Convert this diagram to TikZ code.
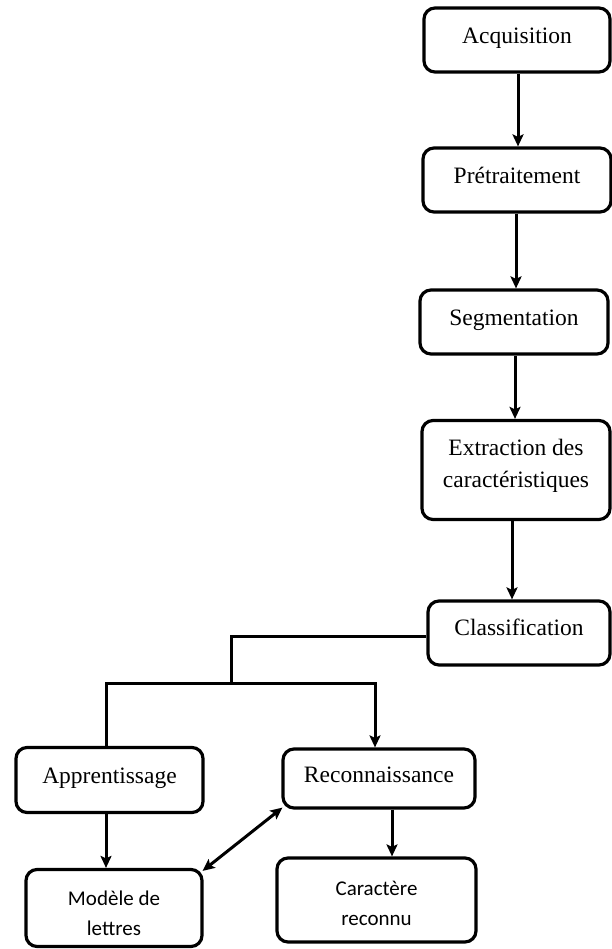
\documentclass[tikz,border=0pt]{standalone}
\usepackage{fontspec}
\setmainfont{Liberation Serif}
\newfontfamily\calib{Carlito}
\usetikzlibrary{arrows.meta}
\begin{document}
\begin{tikzpicture}[x=1pt,y=-1pt,
  box/.style={draw, line width=3.2pt, rounded corners=11pt, fill=white,
    inner sep=0pt, align=center, font=\fontsize{23.5}{32}\selectfont},
  onebox/.style={box, text height=16pt, text depth=9pt},
  sbox/.style={box, font=\calib\fontsize{21}{30}\selectfont},
  link/.style={line width=3pt},
  arr/.style={link, -{Stealth[length=12pt,width=11pt,inset=2.5pt]}},
  darr/.style={link, {Stealth[length=12pt,width=11pt,inset=2.5pt]}-{Stealth[length=12pt,width=11pt,inset=2.5pt]}}]
\useasboundingbox (0,0) rectangle (611,949);

% main pipeline
\node[onebox, minimum width=186pt, minimum height=64pt] (acq) at (517,40) {Acquisition};
\node[onebox, minimum width=188pt, minimum height=64pt] (pre) at (517,180) {Prétraitement};
\node[onebox, minimum width=188pt, minimum height=64pt] (seg) at (514,322) {Segmentation};
\node[box, minimum width=188pt, minimum height=99pt, text depth=14pt] (ext) at (516,470) {Extraction des\\caractéristiques};
\node[onebox, minimum width=182pt, minimum height=64pt, text depth=11pt] (cls) at (519,633) {Classification};

% learning / recognition branches
\node[onebox, minimum width=187pt, minimum height=65pt] (app) at (109.5,780) {Apprentissage};
\node[onebox, minimum width=192pt, minimum height=59pt] (rec) at (379,778.5) {Reconnaissance};
\node[sbox, minimum width=176pt, minimum height=77pt, text height=55pt] (mod) at (114,908) {Modèle de\\lettres};
\node[sbox, minimum width=199pt, minimum height=84pt, text height=52pt] (car) at (376.5,900) {Caractère\\reconnu};

% connectors of the pipeline
\draw[arr] (acq.south -| 518,0) -- (pre.north -| 518,0);
\draw[arr] (pre.south -| 516,0) -- (seg.north -| 516,0);
\draw[arr] (seg.south -| 515,0) -- (ext.north -| 515,0);
\draw[arr] (ext.south -| 512,0) -- (cls.north -| 512,0);

% split after classification
\coordinate (bend) at (231,636);
\coordinate (split) at (231,683);
\coordinate (lft) at (106,683);
\coordinate (rgt) at (375,683);
\draw[link] (cls.west |- bend) -- (bend) -- (split);
\draw[link, line cap=rect] (lft) -- (rgt);
\draw[link] (lft) -- (app.north -| lft);
\draw[arr] (rgt) -- (rec.north -| rgt);

% lower arrows
\draw[arr] (app.south -| 106,0) -- (mod.north -| 106,0);
\draw[arr] (rec.south -| 392,0) -- (car.north -| 392,0);
\path (rec.south west) ++(1,-2) coordinate (r1) (mod.north east) ++(-1,3) coordinate (m1);
\draw[darr] (r1) -- (m1);
\end{tikzpicture}
\end{document}
